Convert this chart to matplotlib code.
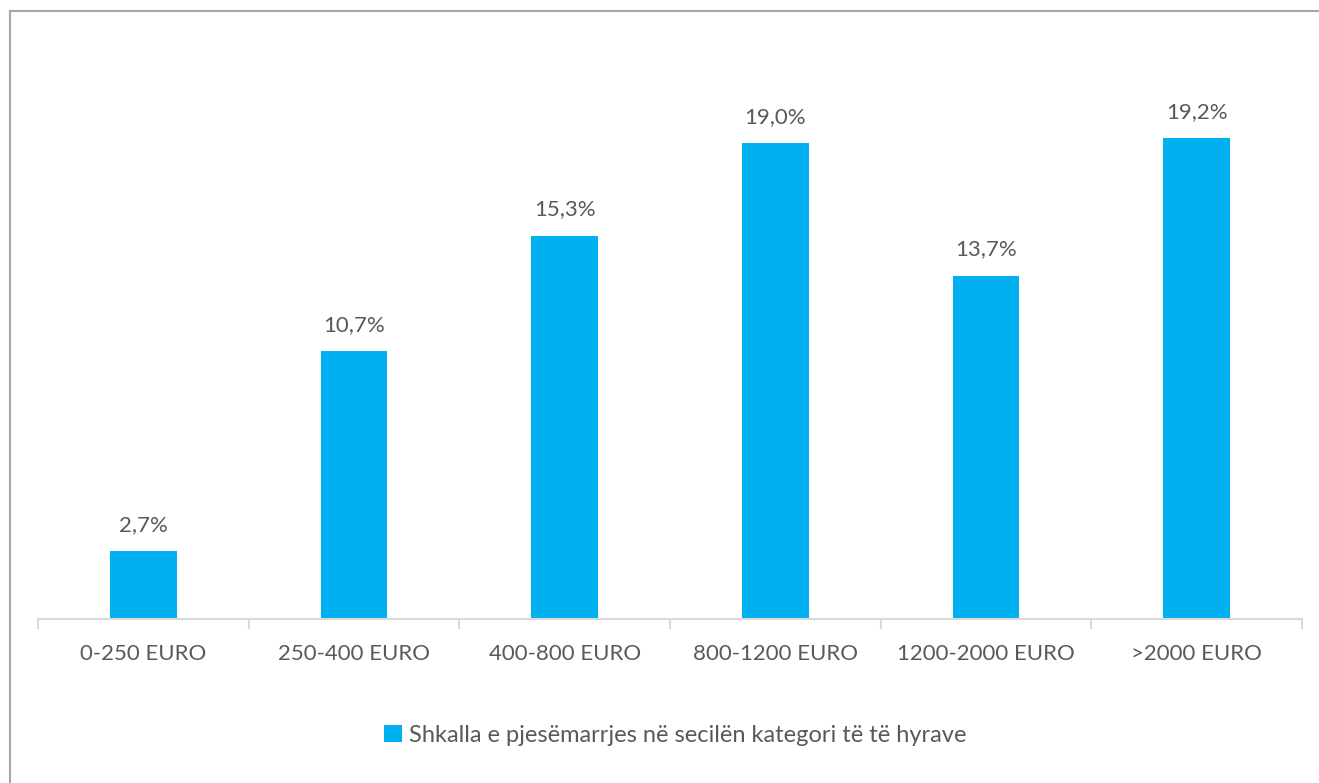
import matplotlib.pyplot as plt
from matplotlib.lines import Line2D
from matplotlib.patches import Patch
import numpy as np

categories = ["0-250 EURO", "250-400 EURO", "400-800 EURO", "800-1200 EURO",
              "1200-2000 EURO", ">2000 EURO"]
values = [2.7, 10.7, 15.3, 19.0, 13.7, 19.2]
labels = ["2,7%", "10,7%", "15,3%", "19,0%", "13,7%", "19,2%"]
series_name = "Shkalla e pjesëmarrjes në secilën kategori të të hyrave"

plt.rcParams['font.family'] = ['Lato', 'DejaVu Sans']
bar_color = "#00B0F0"
text_color = "#595959"

W, H = 1319, 783
fig = plt.figure(figsize=(W / 100, H / 100), dpi=100)

# outer border: only top and left edges show in the original
fig.add_artist(Line2D([10 / W, 1.0], [1 - 11 / H, 1 - 11 / H], transform=fig.transFigure,
                      color="#A6A6A6", linewidth=1.5))
fig.add_artist(Line2D([10 / W, 10 / W], [0.0, 1 - 11 / H], transform=fig.transFigure,
                      color="#A6A6A6", linewidth=1.5))

ax = fig.add_axes([38 / W, (H - 619) / H, (1302 - 38) / W, 579 / H])
x = np.arange(len(categories))
ax.bar(x, values, width=0.315, color=bar_color, label=series_name)
for xi, v, lab in zip(x, values, labels):
    ax.text(xi, v + 0.65, lab, ha="center", va="bottom", fontsize=16, color=text_color)

ax.set_xlim(-0.5, len(categories) - 0.5)
ax.set_ylim(0, 579 / 25.05)
ax.set_yticks([])
for s in ["top", "right", "left"]:
    ax.spines[s].set_visible(False)
ax.spines["bottom"].set_color("#D9D9D9")
ax.spines["bottom"].set_linewidth(1.5)

ax.set_xticks(x)
ax.set_xticklabels(categories, fontsize=16, color=text_color)
ax.tick_params(axis="x", which="major", length=0, pad=18)
ax.set_xticks(np.arange(len(categories) + 1) - 0.5, minor=True)
ax.tick_params(axis="x", which="minor", length=7, width=1.5, color="#D9D9D9")

handle = Patch(facecolor=bar_color, edgecolor="none")
fig.legend([handle], [series_name], loc="center", bbox_to_anchor=(675 / W, 1 - 735 / H),
           frameon=False, fontsize=17, labelcolor=text_color,
           handlelength=0.75, handleheight=0.75, handletextpad=0.3)

fig.savefig("out.png", dpi=100)
